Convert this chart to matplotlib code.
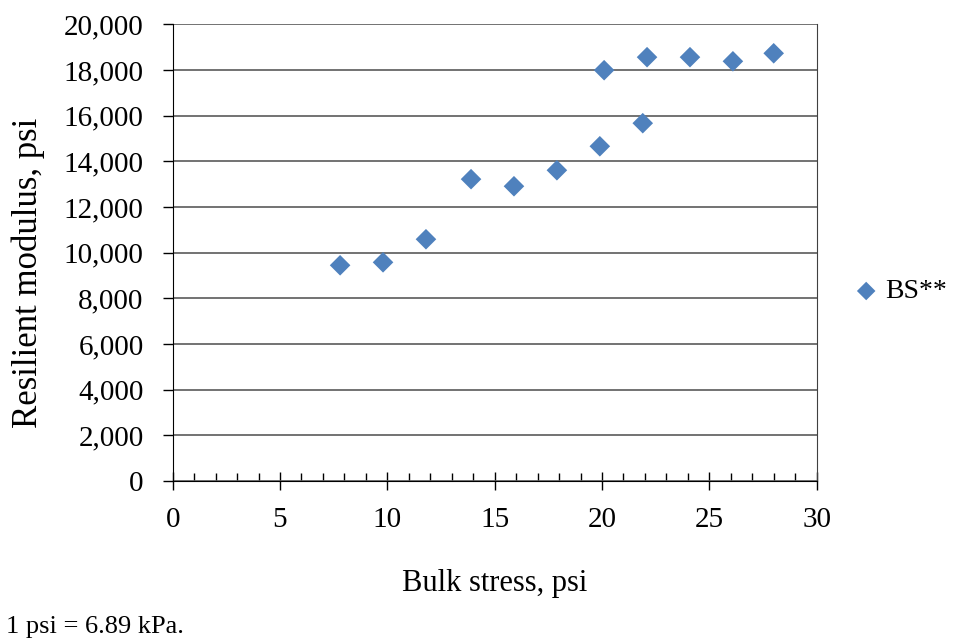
import matplotlib.pyplot as plt
from matplotlib.ticker import FuncFormatter, MultipleLocator

bulk_stress = [7.8, 9.8, 11.8, 13.9, 15.9, 17.9, 19.9, 20.1, 21.9, 22.1, 24.1, 26.1, 28.0]
resilient_modulus = [9450, 9580, 10590, 13220, 12910, 13610, 14660, 17990, 15670, 18560, 18560, 18380, 18730]
series_name = "BS**"

plt.rcParams["font.family"] = ["Liberation Serif", "DejaVu Serif"]

fig = plt.figure(figsize=(9.54, 6.39), dpi=100)
ax = fig.add_axes([0.181, 0.247, 0.675, 0.715])

ax.scatter(bulk_stress, resilient_modulus, marker="D", s=110, color="#4F81BD",
           edgecolors="none", label=series_name, zorder=3, clip_on=False)

ax.set_xlim(0, 30)
ax.set_ylim(0, 20000)
ax.xaxis.set_major_locator(MultipleLocator(5))
ax.xaxis.set_minor_locator(MultipleLocator(1))
ax.yaxis.set_major_locator(MultipleLocator(2000))
ax.yaxis.set_major_formatter(FuncFormatter(lambda v, p: f"{int(v):,}"))

ax.grid(axis="y", color="#5a5a5a", linewidth=1.2)
ax.set_axisbelow(True)

ax.spines["top"].set_visible(False)
ax.spines["right"].set_color("#404040")
ax.spines["left"].set_color("black")
ax.spines["bottom"].set_color("black")

ax.tick_params(axis="x", which="major", direction="inout", length=13, width=1,
               labelsize=21, pad=12)
ax.tick_params(axis="x", which="minor", direction="in", length=6, width=1)
ax.tick_params(axis="y", which="major", direction="out", length=7, width=1,
               labelsize=21, pad=14)

ax.set_xlabel("Bulk stress, psi", fontsize=22, labelpad=26)
ax.set_ylabel("Resilient modulus, psi", fontsize=25)
ax.yaxis.set_label_coords(-0.198, 0.455)

ax.legend(loc="center left", bbox_to_anchor=(0.995, 0.415), frameon=False,
          fontsize=20, handletextpad=-0.3, markerscale=0.9)

fig.text(0.006, 0.01, "1 psi = 6.89 kPa.", fontsize=19)

fig.savefig("out.png", dpi=100)
